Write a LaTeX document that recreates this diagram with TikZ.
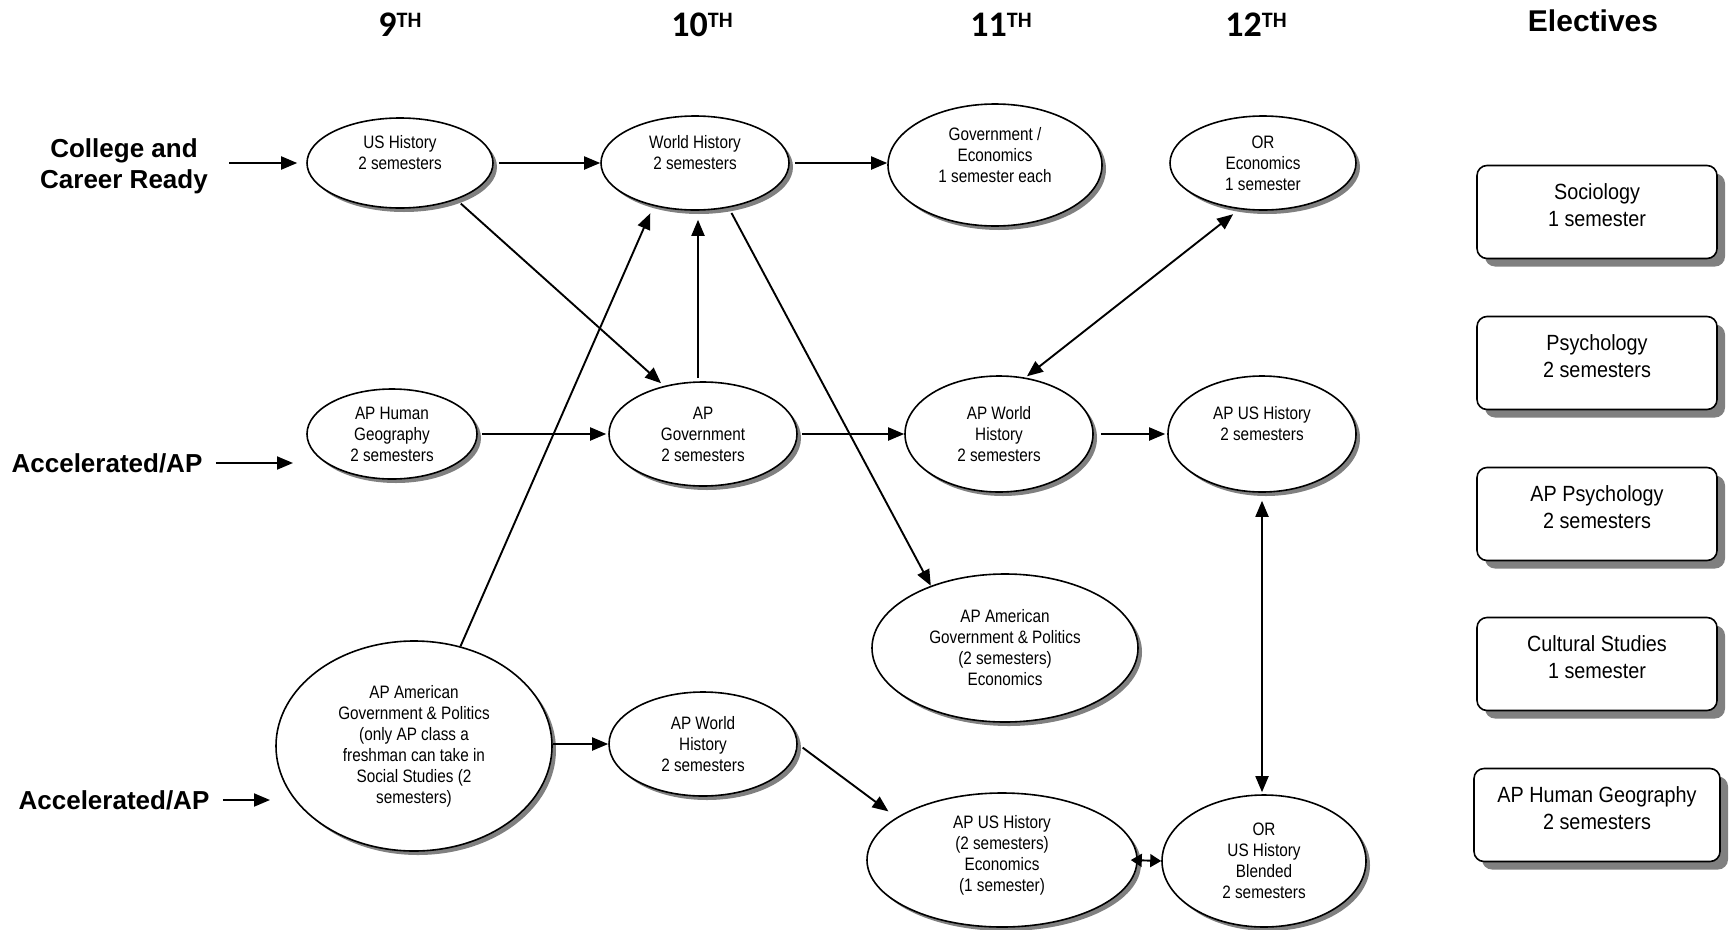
\documentclass[tikz,border=0pt]{standalone}
\usepackage{fontspec}
\setmainfont{Liberation Sans}
\newfontfamily\narrowfont{Liberation Sans}[FakeStretch=0.85]
\newfontfamily\boxfont{Liberation Sans}[FakeStretch=0.9]
\newfontfamily\headfont{Carlito}
\usetikzlibrary{shapes.geometric,shadows,arrows.meta}
\tikzset{
  course/.style={ellipse, draw, line width=1.6pt, fill=white, inner sep=0pt, align=center,
    font=\narrowfont\fontsize{18}{21}\selectfont,
    drop shadow={shadow xshift=4pt, shadow yshift=-4pt, fill=black!50, opacity=1}},
  elective/.style={rectangle, rounded corners=10pt, draw, line width=1.6pt, fill=white, align=center,
    minimum width=240pt, minimum height=93pt, text depth=14pt, font=\boxfont\fontsize{22}{27}\selectfont,
    drop shadow={shadow xshift=8pt, shadow yshift=-8pt, fill=black!50, opacity=1}},
  arr/.style={line width=1.9pt, -{Triangle[length=16pt,width=13pt]}},
  darr/.style={line width=1.9pt, {Triangle[length=16pt,width=13pt]}-{Triangle[length=16pt,width=13pt]}},
  smalldarr/.style={line width=1.9pt, {Triangle[length=11pt,width=13pt]}-{Triangle[length=11pt,width=13pt]}},
  track/.style={font=\bfseries\fontsize{26}{31}\selectfont, align=center},
  grade/.style={font=\headfont\bfseries\fontsize{36}{40}\selectfont},
  elechead/.style={font=\bfseries\fontsize{30}{34}\selectfont},
}
\newcommand{\thsup}{\raisebox{9pt}{\fontsize{22}{22}\selectfont TH}}
\begin{document}
\begin{tikzpicture}[x=1pt,y=-1pt]
\useasboundingbox (0,0) rectangle (1731,929);

% headers
\node[grade] (g9) at (400,25) {9\thsup};
\node[grade] (g10) at (702,25) {10\thsup};
\node[grade] (g11) at (1001,25) {11\thsup};
\node[grade] (g12) at (1256,25) {12\thsup};
\node[elechead] (elec) at (1593,21) {Electives};

% track labels
\node[track] (ccr) at (124,166) {College and\\Career Ready};
\node[track] (acc1) at (107,463) {Accelerated/AP};
\node[track] (acc2) at (114,800) {Accelerated/AP};
\coordinate (acc1tip) at (293,463);
\coordinate (acc2tip) at (270,800);

% courses
\node[course, minimum width=186pt, minimum height=90pt] (ush) at (400,163) {US History\\2 semesters\\\mbox{}};
\node[course, minimum width=188pt, minimum height=94pt] (wh) at (695,163) {World History\\2 semesters\\\mbox{}};
\node[course, minimum width=214pt, minimum height=122pt] (ge) at (995,165) {Government /\\Economics\\1 semester each\\\mbox{}};
\node[course, minimum width=186pt, minimum height=94pt] (ore) at (1263,163) {OR\\Economics\\1 semester};
\node[course, minimum width=170pt, minimum height=90pt] (hg) at (392,434) {AP Human\\Geography\\2 semesters};
\node[course, minimum width=188pt, minimum height=104pt] (apg) at (703,434) {AP\\Government\\2 semesters};
\node[course, minimum width=188pt, minimum height=116pt] (apw) at (999,434) {AP World\\History\\2 semesters};
\node[course, minimum width=188pt, minimum height=116pt] (apus) at (1262,434) {AP US History\\2 semesters\\\mbox{}};
\node[course, minimum width=266pt, minimum height=148pt] (aag) at (1005,648) {AP American\\Government \& Politics\\(2 semesters)\\Economics};
\node[course, minimum width=276pt, minimum height=210pt] (aagf) at (414,746) {AP American\\Government \& Politics\\(only AP class a\\freshman can take in\\Social Studies (2\\semesters)};
\node[course, minimum width=188pt, minimum height=104pt] (apw10) at (703,744) {AP World\\History\\2 semesters};
\node[course, minimum width=270pt, minimum height=134pt, text depth=14pt] (apusb) at (1002,860) {AP US History\\(2 semesters)\\Economics\\(1 semester)};
\node[course, minimum width=204pt, minimum height=132pt] (orus) at (1264,861) {OR\\US History\\Blended\\2 semesters};

% electives
\node[elective] (soc) at (1597,212) {Sociology\\1 semester};
\node[elective] (psy) at (1597,363) {Psychology\\2 semesters};
\node[elective] (appsy) at (1597,514) {AP Psychology\\2 semesters};
\node[elective] (cult) at (1597,664) {Cultural Studies\\1 semester};
\node[elective, minimum width=246pt] (aphg) at (1597,815) {AP Human Geography\\2 semesters};

% track arrows
\draw[arr, shorten <=18pt, shorten >=9pt] (ccr.east |- ush.west) -- (ush.west);
\draw[arr, shorten <=10pt] (acc1.east) -- (acc1tip);
\draw[arr, shorten <=10pt] (acc2.east) -- (acc2tip);

% connectors
\draw[arr, shorten <=5pt] (ush.east) -- (wh.west);
\draw[arr, shorten <=5pt] (wh.east) -- (wh.east -| ge.west);
\draw[arr, shorten <=6pt, shorten >=4pt] (ush.-33) -- (apg.129);
\draw[arr, shorten <=3pt, shorten >=9pt] ([xshift=-5pt]apg.north) -- ([xshift=-5pt]apg.north |- wh.south);
\draw[arr, shorten >=8pt] (aagf.65) -- (wh.-134);
\draw[arr, shorten <=6pt] (wh.-53) -- (aag.140);
\draw[arr, shorten <=4pt, shorten >=2pt] (hg.east) -- (apg.west);
\draw[arr, shorten <=4pt] (apg.east) -- (apw.west);
\draw[arr, shorten <=7pt, shorten >=2pt] (apw.east) -- (apus.west);
\draw[darr, shorten <=8pt, shorten >=2pt] (ore.-117) -- (apw.65);
\draw[darr, shorten <=8pt, shorten >=2pt] (apus.south) -- (apus.south |- orus.north);
\draw[arr] (apw10.west -| aagf.east) -- (apw10.west);
\draw[arr, shorten <=6pt, shorten >=10pt] (apw10.east) -- (apusb.158);
\draw[smalldarr] ([xshift=-7pt]apusb.east) -- (orus.west);
\end{tikzpicture}
\end{document}
